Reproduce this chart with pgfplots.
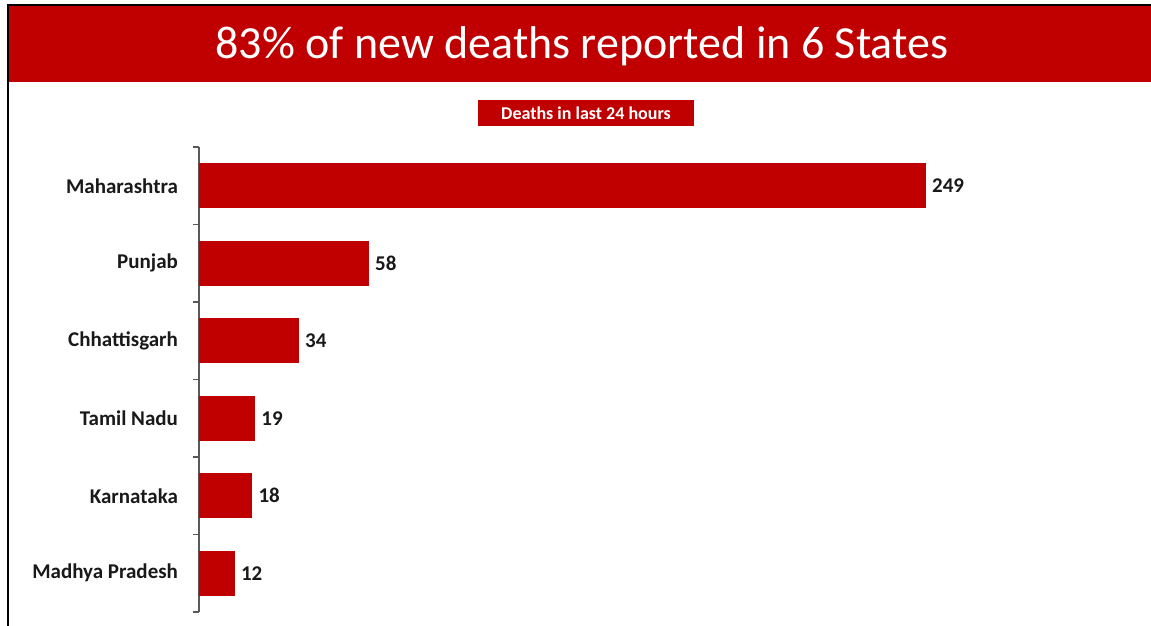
\documentclass[border=0pt]{standalone}
\usepackage{pgfplots}
\pgfplotsset{compat=1.18}
\usepackage{fontspec}
\setmainfont{Carlito}
\definecolor{bannerred}{RGB}{192,0,0}
\definecolor{barred}{RGB}{192,0,0}
\definecolor{axisgrey}{RGB}{90,90,90}
\begin{document}
\begin{tikzpicture}
\useasboundingbox (0,0) rectangle (575.5pt,313pt);
% banner and frame
\fill[bannerred] (4pt,272pt) rectangle (575.5pt,310.5pt);
\draw[black, line width=0.8pt] (4pt,0) -- (4pt,310.5pt) -- (575.5pt,310.5pt);
\node[text=white, font=\fontsize{23}{27}\selectfont] at (291pt,290pt) {83\% of new deaths reported in 6 States};
\node[fill=bannerred, text=white, font=\bfseries\fontsize{9}{11}\selectfont,
  minimum width=108pt, minimum height=13pt, inner sep=1pt] at (293pt,256.5pt) {Deaths in last 24 hours};
\begin{axis}[
  at={(99.5pt,7pt)}, anchor=south west,
  scale only axis,
  width=437.4pt, height=232.5pt,
  xbar, bar width=22pt,
  xmin=0, xmax=300,
  ymin=-0.5, ymax=5.5, y dir=reverse,
  axis x line=none,
  axis y line*=left,
  axis line style={axisgrey, line width=0.75pt},
  ytick={0,1,2,3,4,5},
  yticklabels={Maharashtra,Punjab,Chhattisgarh,Tamil Nadu,Karnataka,Madhya Pradesh},
  major tick length=0pt,
  minor ytick={-0.5,0.5,1.5,2.5,3.5,4.5,5.5},
  minor tick length=3pt,
  tick align=outside,
  minor tick style={axisgrey, line width=0.75pt},
  yticklabel style={font=\bfseries\fontsize{10.5}{12}\selectfont, text=black!90, xshift=-7pt},
  /pgf/number format/assume math mode=true,
  nodes near coords,
  nodes near coords style={font=\bfseries\fontsize{10.5}{12}\selectfont, text=black!90},
  point meta=x,
  clip=false,
]
\addplot[fill=barred, draw=barred] coordinates {
  (249,0) (58,1) (34,2) (19,3) (18,4) (12,5)
};
\end{axis}
\end{tikzpicture}
\end{document}
